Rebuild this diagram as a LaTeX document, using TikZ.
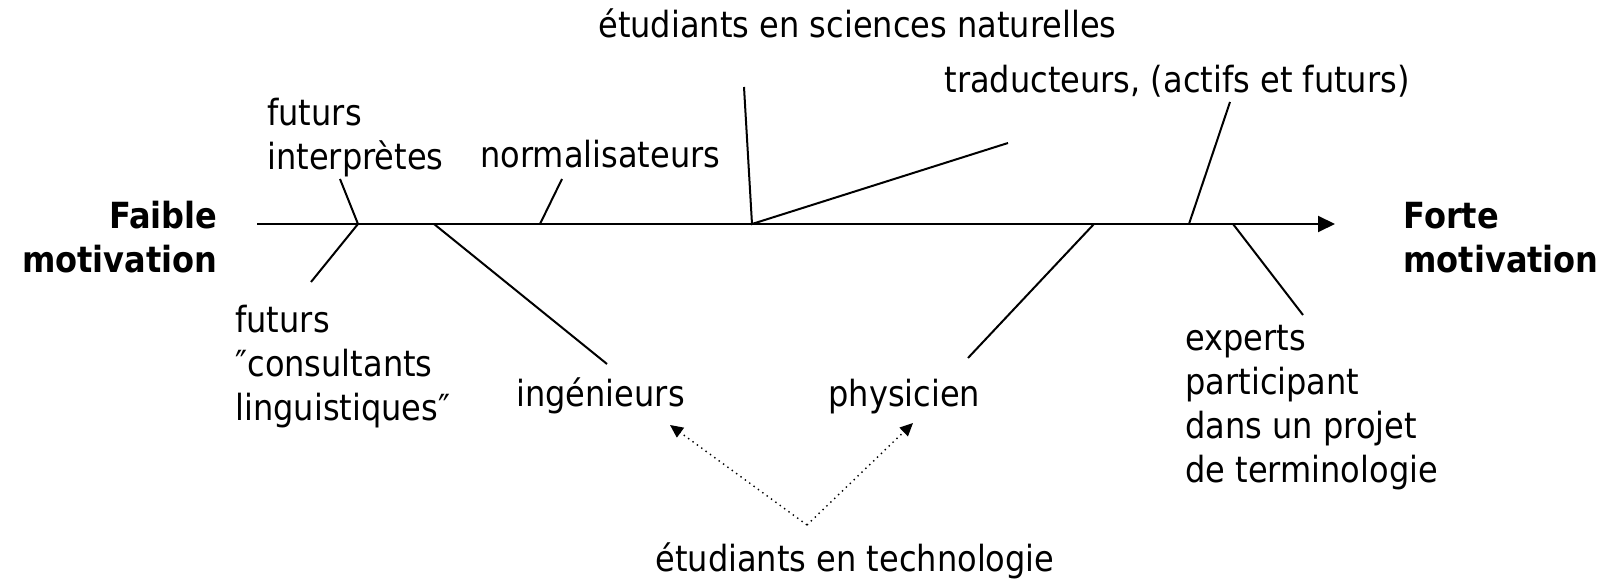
\documentclass[tikz,border=0pt]{standalone}
\usepackage{fontspec}
\setmainfont{DejaVu Sans}[FakeStretch=0.89]
\usetikzlibrary{arrows.meta}
\begin{document}
\begin{tikzpicture}[x=0.5pt,y=-0.5pt,
		font=\fontsize{18}{22}\selectfont,
		lbl/.style={anchor=base west,inner sep=0pt,align=left},
		pole/.style={inner sep=0pt,font=\fontsize{18}{22}\selectfont\bfseries},
		branch/.style={line width=1pt},
		hint/.style={line width=0.7pt,dotted,-{Triangle[length=6.5pt,width=6pt]}}]
	\useasboundingbox (0,0) rectangle (1614,582);

	% the two poles and the axis (multi-line nodes sit on their last line)
	\node[pole,anchor=base east,align=right] at (218,273) (faible) {Faible\\motivation};
	\node[pole,anchor=base west,align=left] at (1403,273) (forte) {Forte\\motivation};
	\coordinate (a0) at (257,224);
	\coordinate (a1) at (1335,224);
	\draw[branch,-{Triangle[length=8.5pt,width=8pt]}] (a0)--(a1);

	% groups above the axis
	\node[lbl] at (267,170) (interp) {futurs\\interprètes};
	\node[lbl] at (480,168) (norm) {normalisateurs};
	\node[lbl] at (598,38) (natur) {étudiants en sciences naturelles};
	\node[lbl,anchor=base east] at (1410,93) (trad) {traducteurs, (actifs et futurs)};

	% groups below the axis
	\node[lbl] at (235,421) (consult) {futurs\\{}″consultants\\linguistiques″};
	\node[lbl] at (516,407) (ing) {ingénieurs};
	\node[lbl] at (828,407) (phys) {physicien};
	\node[lbl] at (1185,483) (expert) {experts\\participant\\dans un projet\\de terminologie};
	\node[lbl,anchor=base] at (855,572) (techno) {étudiants en technologie};

	% branches
	\coordinate (jinterp) at (358,224);  \coordinate (einterp) at (340,179);
	\coordinate (econsult) at (311,282);
	\coordinate (jing) at (434,224);     \coordinate (eing) at (607,364);
	\coordinate (jnorm) at (540,224);    \coordinate (enorm) at (562,179);
	\coordinate (jnatur) at (752,224);   \coordinate (enatur) at (744,87);
	\coordinate (enatur2) at (1008,143);
	\coordinate (jphys) at (1094,224);   \coordinate (ephys) at (968,358);
	\coordinate (jtrad) at (1189,224);   \coordinate (etrad) at (1230,102);
	\coordinate (jexpert) at (1233,224); \coordinate (eexpert) at (1303,315);
	\draw[branch] (einterp)--(jinterp)--(econsult);
	\draw[branch] (jing)--(eing);
	\draw[branch] (jnorm)--(enorm);
	\draw[branch] (enatur)--(jnatur)--(enatur2);
	\draw[branch] (jphys)--(ephys);
	\draw[branch] (jtrad)--(etrad);
	\draw[branch] (jexpert)--(eexpert);

	% technology students point to both
	\coordinate (apex) at (807,525);
	\coordinate (ting) at (670,425);
	\coordinate (tphys) at (913,423);
	\draw[hint] (apex)--(ting);
	\draw[hint] (apex)--(tphys);
\end{tikzpicture}
\end{document}
